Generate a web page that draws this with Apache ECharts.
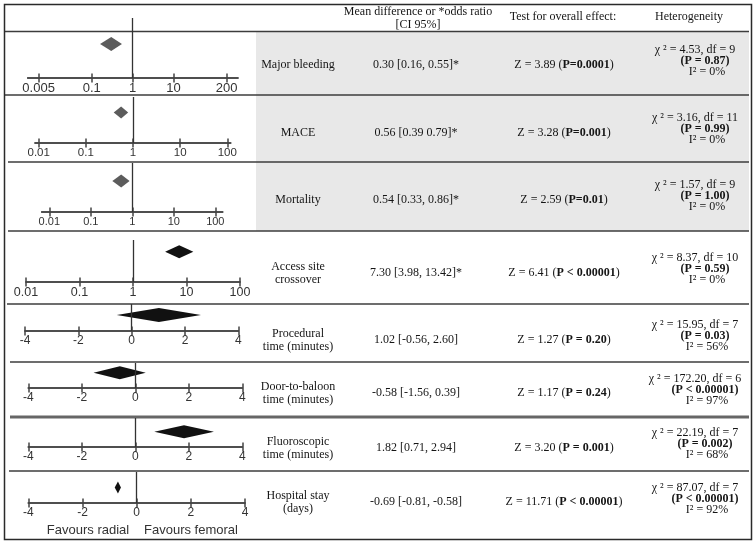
<!DOCTYPE html>
<html><head><meta charset="utf-8">
<script src="https://cdn.jsdelivr.net/npm/echarts@6/dist/echarts.min.js"></script>
<style>html,body{margin:0;padding:0;background:#fff}#c{width:756px;height:543px}</style>
</head><body><div id="c"></div>
<script>
// ---------------- DATA ----------------
const outcomes = ['Major bleeding', 'MACE', 'Mortality', 'Access site\ncrossover',
  'Procedural\ntime (minutes)', 'Door-to-baloon\ntime (minutes)', 'Fluoroscopic\ntime (minutes)', 'Hospital stay\n(days)'];
const estimate = [0.30, 0.56, 0.54, 7.30, 1.02, -0.58, 1.82, -0.69];
const ciLow    = [0.16, 0.39, 0.33, 3.98, -0.56, -1.56, 0.71, -0.81];
const ciHigh   = [0.55, 0.79, 0.86, 13.42, 2.60, 0.39, 2.94, -0.58];
const ciLabels = ['0.30 [0.16, 0.55]*', '0.56 [0.39 0.79]*', '0.54 [0.33, 0.86]*', '7.30 [3.98, 13.42]*',
  '1.02 [-0.56, 2.60]', '-0.58 [-1.56, 0.39]', '1.82 [0.71, 2.94]', '-0.69 [-0.81, -0.58]'];
const zValues = [3.89, 3.28, 2.59, 6.41, 1.27, 1.17, 3.20, 11.71];
const zP = ['P=0.0001', 'P=0.001', 'P=0.01', 'P < 0.00001', 'P = 0.20', 'P = 0.24', 'P = 0.001', 'P < 0.00001'];
const chi2 = [4.53, 3.16, 1.57, 8.37, 15.95, 172.20, 22.19, 87.07];
const hetDf = [9, 11, 9, 10, 7, 6, 7, 7];
const hetP = ['P = 0.87', 'P = 0.99', 'P = 1.00', 'P = 0.59', 'P = 0.03', 'P < 0.00001', 'P = 0.002', 'P < 0.00001'];
const iSquared = [0, 0, 0, 0, 56, 97, 68, 92];
const refValue = [1, 1, 1, 1, 0, 0, 0, 0];
const scaleType = ['log', 'log', 'log', 'log', 'value', 'value', 'value', 'value'];
const ticksRow1 = [0.005, 0.1, 1, 10, 200];
const ticksLog = [0.01, 0.1, 1, 10, 100];
const ticksLin = [-4, -2, 0, 2, 4];
const rowTicks = [ticksRow1, ticksLog, ticksLog, ticksLog, ticksLin, ticksLin, ticksLin, ticksLin];
const headers = ['Mean difference or *odds ratio\n[CI 95%]', 'Test for overall effect:', 'Heterogeneity'];
const favours = ['Favours radial', 'Favours femoral'];

// ---------------- LAYOUT ----------------
const rowLayout = [
  {x0: 27.7, x1: 238,   min: 0.0027,  max: 382,   top: 18,  axisY: 78,  cy: 44,    h: 14, fs: 13,   color: '#5c5c5c', textY: 65,  hetY: 50},
  {x0: 35,   x1: 230.7, min: 0.00835, max: 118,   top: 97,  axisY: 143, cy: 112.5, h: 12, fs: 11.5, color: '#5c5c5c', textY: 133, hetY: 118},
  {x0: 41.7, x1: 222.7, min: 0.00656, max: 150.7, top: 163, axisY: 212, cy: 181,   h: 13, fs: 11,   color: '#5c5c5c', textY: 200, hetY: 185},
  {x0: 26,   x1: 240,   min: 0.01,    max: 100,   top: 240, axisY: 282, cy: 251.7, h: 13, fs: 12.5, color: '#111',    textY: 273, hetY: 258},
  {x0: 25,   x1: 238.3, min: -4,      max: 4,     top: 304, axisY: 331, cy: 315,   h: 14, fs: 12,   color: '#111',    textY: 340, hetY: 325},
  {x0: 28.3, x1: 242.3, min: -4,      max: 4,     top: 363, axisY: 388, cy: 372.7, h: 13, fs: 12,   color: '#111',    textY: 393, hetY: 379},
  {x0: 28.3, x1: 242.3, min: -4,      max: 4,     top: 418, axisY: 447, cy: 431.7, h: 13, fs: 12,   color: '#111',    textY: 448, hetY: 433},
  {x0: 28.3, x1: 245,   min: -4,      max: 4,     top: 472, axisY: 503, cy: 487.5, h: 12, fs: 12,   color: '#111',    textY: 502, hetY: 488}
];
const sepLines = [
  {y: 31.5, x0: 4, w: 1.5}, {y: 95, x0: 4, w: 1.5}, {y: 162, x0: 8, w: 1.5}, {y: 231, x0: 8, w: 1.5},
  {y: 304, x0: 7, w: 1.5}, {y: 362, x0: 10, w: 1.5}, {y: 417, x0: 10, w: 3.2, c: '#666'}, {y: 471, x0: 9, w: 1.5}
];
const colX = {name: 298, ci: 416, z: 564, het: 695};
const SERIF = '"Liberation Serif", "Times New Roman", serif';
const SANS = '"Liberation Sans", Arial, sans-serif';
const TXT = '#151515';

function fmt(ticks) {
  return function (v) {
    for (const t of ticks) {
      if (Math.abs(v - t) <= 1e-6 * Math.max(1, Math.abs(t))) return String(t);
    }
    return '';
  };
}

const grids = [], xAxes = [], yAxes = [], series = [];
rowLayout.forEach((L, i) => {
  grids.push({left: L.x0, top: L.top, width: L.x1 - L.x0, height: L.axisY - L.top});
  const base = {
    gridIndex: i, type: scaleType[i], min: L.min, max: L.max, logBase: 10, position: 'bottom',
    axisLine: {show: true, onZero: false, lineStyle: {color: '#444', width: 1.5}},
    splitLine: {show: false}, minorTick: {show: false}
  };
  xAxes.push(Object.assign({}, base, {
    axisTick: {show: true, inside: true, length: 4.5, customValues: rowTicks[i], lineStyle: {color: '#444', width: 1.5}},
    axisLabel: {show: true, customValues: rowTicks[i], margin: 4, fontSize: L.fs, fontFamily: SANS, color: '#333', formatter: fmt(rowTicks[i])}
  }));
  xAxes.push(Object.assign({}, base, {
    axisTick: {show: true, inside: false, length: 4.5, customValues: rowTicks[i], lineStyle: {color: '#444', width: 1.5}},
    axisLabel: {show: false}
  }));
  yAxes.push({gridIndex: i, type: 'value', min: 0, max: 1, show: false, splitLine: {show: false}});
  series.push({
    type: 'custom', xAxisIndex: 2 * i, yAxisIndex: i,
    data: [[estimate[i], ciLow[i], ciHigh[i]]],
    encode: {x: [0, 1, 2]},
    renderItem: function (params, api) {
      const pe = api.coord([api.value(0), 0])[0];
      const pl = api.coord([api.value(1), 0])[0];
      const ph = api.coord([api.value(2), 0])[0];
      const cy = L.cy, hh = L.h / 2;
      return {type: 'polygon', shape: {points: [[pl, cy], [pe, cy - hh], [ph, cy], [pe, cy + hh]]}, style: {fill: L.color}};
    },
    markLine: {
      silent: true, symbol: ['none', 'none'], label: {show: false}, animation: false,
      lineStyle: {color: '#333', width: 1.3, type: 'solid'}, emphasis: {disabled: true},
      data: [{xAxis: refValue[i]}]
    }
  });
});

// ---------------- GRAPHIC (table) ----------------
const g = [];
g.push({type: 'rect', z: -10, shape: {x: 256, y: 32, width: 493, height: 199}, style: {fill: '#e8e8e8'}});
sepLines.forEach(s => g.push({type: 'line', z: 5, shape: {x1: s.x0, y1: s.y, x2: 749, y2: s.y}, style: {stroke: s.c || '#3c3c3c', lineWidth: s.w}}));
g.push({type: 'rect', z: 6, shape: {x: 4.5, y: 4.5, width: 747, height: 535}, style: {fill: 'none', stroke: '#2a2a2a', lineWidth: 1.5}});

function txt(x, y, text, extra) {
  return Object.assign({type: 'text', z: 10, style: Object.assign({
    x: x, y: y, text: text, fill: TXT, font: '12px ' + SERIF, align: 'center', verticalAlign: 'middle', lineHeight: 13
  }, extra || {})});
}
const boldRich = {b: {fontWeight: 'bold', fontSize: 12, fontFamily: SERIF, fill: TXT}};

g.push(txt(418, 18.5, headers[0], {lineHeight: 13}));
g.push(txt(563, 17, headers[1]));
g.push(txt(689, 17, headers[2]));

rowLayout.forEach((L, i) => {
  g.push(txt(colX.name, L.textY, outcomes[i]));
  g.push(txt(colX.ci, L.textY, ciLabels[i]));
  g.push(txt(colX.z, L.textY, 'Z = ' + zValues[i].toFixed(2) + ' ({b|' + zP[i] + '})', {rich: boldRich}));
  g.push(txt(colX.het, L.hetY, 'χ ² = ' + chi2[i].toFixed(2) + ', df = ' + hetDf[i]));
  g.push(txt(colX.het + 10, L.hetY + 11, '(' + hetP[i] + ')', {font: 'bold 12px ' + SERIF}));
  g.push(txt(colX.het + 12, L.hetY + 21.5, 'I² = ' + iSquared[i] + '%'));
});
g.push(txt(88, 530, favours[0], {font: '13px ' + SANS, fill: '#333'}));
g.push(txt(191, 530, favours[1], {font: '13px ' + SANS, fill: '#333'}));

const chart = echarts.init(document.getElementById('c'), null, {renderer: 'canvas'});
chart.setOption({
  animation: false,
  backgroundColor: '#fff',
  grid: grids, xAxis: xAxes, yAxis: yAxes, series: series,
  graphic: {elements: g}
});
</script></body></html>
